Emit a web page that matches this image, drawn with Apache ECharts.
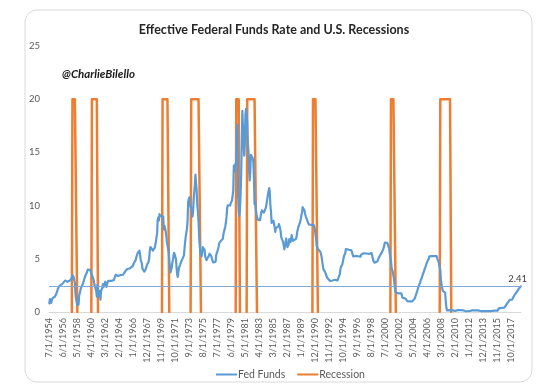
<!DOCTYPE html>
<html>
<head>
<meta charset="utf-8">
<script src="https://cdn.jsdelivr.net/npm/echarts@6/dist/echarts.min.js"></script>
<style>html,body{margin:0;padding:0;background:#fff}#c{width:540px;height:388px}</style>
</head>
<body>
<div id="c"></div>
<script>
// Monthly effective fed funds rate, starting July 1954
const startYear = 1954, startMonth = 7;
const fedFunds = [
0.80,1.22,1.07,0.85,0.83,1.28,
1.39,1.29,1.35,1.43,1.43,1.64,1.68,1.96,2.18,2.24,2.35,2.48,
2.45,2.50,2.50,2.62,2.75,2.71,2.75,2.73,2.95,2.96,2.88,2.94,
2.84,3.00,2.96,3.00,3.00,3.00,2.99,3.24,3.47,3.50,3.28,2.98,
2.72,1.67,1.20,1.26,0.63,0.93,0.68,1.53,1.76,1.80,2.27,2.42,
2.48,2.43,2.80,2.96,2.90,3.39,3.47,3.50,3.76,3.98,4.00,3.99,
3.99,3.97,3.84,3.92,3.85,3.32,3.23,2.98,2.60,2.47,2.44,1.98,
1.45,2.54,2.02,1.49,1.98,1.73,1.17,2.00,1.88,2.26,2.62,2.33,
2.15,2.37,2.85,2.78,2.36,2.68,2.71,2.93,2.90,2.90,2.94,2.93,
2.92,3.00,2.98,2.90,3.00,2.99,3.02,3.49,3.48,3.50,3.48,3.38,
3.48,3.48,3.43,3.47,3.50,3.50,3.42,3.50,3.45,3.36,3.52,3.85,
3.90,3.98,4.04,4.09,4.10,4.04,4.09,4.12,4.01,4.08,4.10,4.32,
4.42,4.60,4.65,4.67,4.90,5.17,5.30,5.53,5.40,5.53,5.76,5.40,
4.94,5.00,4.53,4.05,3.94,3.98,3.79,3.90,3.99,3.88,4.13,4.51,
4.61,4.71,5.05,5.76,6.11,6.07,6.02,6.03,5.78,5.91,5.82,6.02,
6.30,6.61,6.79,7.41,8.67,8.90,8.61,9.19,9.15,9.00,8.85,8.97,
8.98,8.98,7.76,8.10,7.95,7.61,7.21,6.61,6.29,6.20,5.60,4.90,
4.14,3.72,3.71,4.16,4.63,4.91,5.31,5.56,5.55,5.20,4.91,4.14,
3.50,3.29,3.83,4.17,4.27,4.46,4.55,4.80,4.87,5.04,5.06,5.33,
5.94,6.58,7.09,7.12,7.84,8.49,10.40,10.50,10.78,10.01,10.03,9.95,
9.65,8.97,9.35,10.51,11.31,11.93,12.92,12.01,11.34,10.06,9.45,8.53,
7.13,6.24,5.54,5.49,5.22,5.55,6.10,6.14,6.24,5.82,5.22,5.20,
4.87,4.77,4.84,4.82,5.29,5.48,5.31,5.29,5.25,5.02,4.95,4.65,
4.61,4.68,4.69,4.73,5.35,5.39,5.42,5.90,6.14,6.47,6.51,6.56,
6.70,6.78,6.79,6.89,7.36,7.60,7.81,8.04,8.45,8.96,9.76,10.03,
10.07,10.06,10.09,10.01,10.24,10.29,10.47,10.94,11.43,13.77,13.18,13.78,
13.82,14.13,17.19,17.61,10.98,9.47,9.03,9.61,10.87,12.81,15.85,18.90,
19.08,15.93,14.70,15.72,18.52,19.10,19.04,17.82,15.87,15.08,13.31,12.37,
13.22,14.78,14.68,14.94,14.45,14.15,12.59,10.12,10.31,9.71,9.20,8.95,
8.68,8.51,8.77,8.80,8.63,8.98,9.37,9.56,9.45,9.48,9.34,9.47,
9.56,9.59,9.91,10.29,10.32,11.06,11.23,11.64,11.30,9.99,9.43,8.38,
8.35,8.50,8.58,8.27,7.97,7.53,7.88,7.90,7.92,7.99,8.05,8.27,
8.14,7.86,7.48,6.99,6.85,6.92,6.56,6.17,5.89,5.85,6.04,6.91,
6.43,6.10,6.13,6.37,6.85,6.73,6.58,6.73,7.22,7.29,6.69,6.77,
6.83,6.58,6.58,6.87,7.09,7.51,7.75,8.01,8.19,8.30,8.35,8.76,
9.12,9.36,9.85,9.84,9.81,9.53,9.24,8.99,9.02,8.84,8.55,8.45,
8.23,8.24,8.28,8.26,8.18,8.29,8.15,8.13,8.20,8.11,7.81,7.31,
6.91,6.25,6.12,5.91,5.78,5.90,5.82,5.66,5.45,5.21,4.81,4.43,
4.03,4.06,3.98,3.73,3.82,3.76,3.25,3.30,3.22,3.10,3.09,2.92,
3.02,3.03,3.07,2.96,3.00,3.04,3.06,3.03,3.09,2.99,3.02,2.96,
3.05,3.25,3.34,3.56,4.01,4.25,4.26,4.47,4.73,4.76,5.29,5.45,
5.53,5.92,5.98,6.05,6.01,6.00,5.85,5.74,5.80,5.76,5.80,5.60,
5.56,5.22,5.31,5.22,5.24,5.27,5.40,5.22,5.30,5.24,5.31,5.29,
5.25,5.19,5.39,5.51,5.50,5.56,5.52,5.54,5.54,5.50,5.52,5.50,
5.56,5.51,5.49,5.45,5.49,5.56,5.54,5.55,5.51,5.07,4.83,4.68,
4.63,4.76,4.81,4.74,4.74,4.76,4.99,5.07,5.22,5.20,5.42,5.30,
5.45,5.73,5.85,6.02,6.27,6.53,6.54,6.50,6.52,6.51,6.51,6.40,
5.98,5.49,5.31,4.80,4.21,3.97,3.77,3.65,3.07,2.49,2.09,1.82,
1.73,1.74,1.73,1.75,1.75,1.75,1.73,1.74,1.75,1.75,1.34,1.24,
1.24,1.26,1.25,1.26,1.26,1.22,1.01,1.03,1.01,1.01,1.00,0.98,
1.00,1.01,1.00,1.00,1.00,1.03,1.26,1.43,1.61,1.76,1.93,2.16,
2.28,2.50,2.63,2.79,3.00,3.04,3.26,3.50,3.62,3.78,4.00,4.16,
4.29,4.49,4.59,4.79,4.94,4.99,5.24,5.25,5.25,5.25,5.25,5.24,
5.25,5.26,5.26,5.25,5.25,5.25,5.26,5.02,4.94,4.76,4.49,4.24,
3.94,2.98,2.61,2.28,1.98,2.00,2.01,2.00,1.81,0.97,0.39,0.16,
0.15,0.22,0.18,0.15,0.18,0.21,0.16,0.16,0.15,0.12,0.12,0.12,
0.11,0.13,0.16,0.20,0.20,0.18,0.18,0.19,0.19,0.19,0.19,0.18,
0.17,0.16,0.14,0.10,0.09,0.09,0.07,0.10,0.08,0.07,0.08,0.07,
0.08,0.10,0.13,0.14,0.16,0.16,0.16,0.13,0.14,0.16,0.16,0.16,
0.14,0.15,0.14,0.15,0.11,0.09,0.09,0.08,0.08,0.09,0.08,0.09,
0.07,0.07,0.08,0.09,0.09,0.10,0.09,0.09,0.09,0.09,0.09,0.12,
0.11,0.11,0.11,0.12,0.12,0.13,0.13,0.14,0.14,0.12,0.12,0.24,
0.34,0.38,0.36,0.37,0.37,0.38,0.39,0.40,0.40,0.40,0.41,0.54,
0.65,0.66,0.79,0.90,0.91,1.04,1.15,1.16,1.15,1.15,1.16,1.30,
1.41,1.42,1.51,1.69,1.70,1.82,1.91,1.91,1.95,2.19,2.20,2.27,
2.41
];
// NBER recessions (first and last month at level 20)
const recessionStart = ['9/1/1957','5/1/1960','1/1/1970','12/1/1973','2/1/1980','8/1/1981','8/1/1990','4/1/2001','1/1/2008'];
const recessionEnd   = ['4/1/1958','2/1/1961','11/1/1970','3/1/1975','7/1/1980','11/1/1982','3/1/1991','11/1/2001','6/1/2009'];
const recessionLevel = 20;
const latestValue = 2.41;
const yTicks = [0, 5, 10, 15, 20, 25];

const categories = [];
for (let i = 0; i < fedFunds.length; i++) {
  const m = (startMonth - 1 + i) % 12 + 1;
  const y = startYear + Math.floor((startMonth - 1 + i) / 12);
  categories.push(m + '/1/' + y);
}
const recession = categories.map(() => null);
recessionStart.forEach((s, k) => {
  const a = categories.indexOf(s), b = categories.indexOf(recessionEnd[k]);
  if (a > 0) recession[a - 1] = 0;
  for (let i = a; i <= b; i++) recession[i] = recessionLevel;
  if (b + 1 < recession.length) recession[b + 1] = 0;
});

const chart = echarts.init(document.getElementById('c'), null, {renderer: 'canvas'});
const FONT = 'Lato, "Open Sans", sans-serif';
chart.setOption({
  animation: false,
  backgroundColor: '#fff',
  textStyle: {fontFamily: FONT},
  title: {
    text: 'Effective Federal Funds Rate and U.S. Recessions',
    left: 269, top: 18, textAlign: 'center',
    textStyle: {fontFamily: FONT, fontWeight: 'bold', fontSize: 12.5, color: '#262626'}
  },
  graphic: [
    {type: 'rect', shape: {x: 25, y: 10, width: 507, height: 372, r: 12},
     style: {fill: 'none', stroke: '#d9d9d9', lineWidth: 1}, silent: true, z: -1},
    {type: 'text', left: 62, top: 68,
     style: {text: '@CharlieBilello', fill: '#1a1a1a', font: 'italic bold 11.5px ' + FONT}}
  ],
  legend: {
    top: 364, left: 211, itemWidth: 21, itemHeight: 2, itemGap: 12, icon: 'rect',
    textStyle: {fontFamily: FONT, fontSize: 10.5, color: '#595959', padding: [0, 0, 0, -4]},
    data: ['Fed Funds', 'Recession']
  },
  grid: {left: 49, right: 19, top: 46, bottom: 76, containLabel: false},
  xAxis: {
    type: 'category', data: categories, boundaryGap: true,
    axisLine: {lineStyle: {color: '#d9d9d9', width: 1}},
    axisTick: {show: false},
    axisLabel: {interval: 22, rotate: 90, fontSize: 9, color: '#595959', margin: 6, fontFamily: FONT},
    splitLine: {show: false}
  },
  yAxis: {
    type: 'value', min: 0, max: 25, interval: 5,
    axisLine: {show: false}, axisTick: {show: false}, splitLine: {show: false},
    axisLabel: {fontSize: 9.5, color: '#595959', margin: 9, fontFamily: FONT,
      formatter: v => yTicks.includes(v) ? String(v) : ''}
  },
  series: [
    {
      name: 'Fed Funds', type: 'line', data: fedFunds, symbol: 'none', z: 3,
      lineStyle: {color: '#5B9BD5', width: 2.2, join: 'round', cap: 'round'}, itemStyle: {color: '#5B9BD5'},
      markLine: {
        silent: true, symbol: 'none',
        lineStyle: {color: '#7FA8D8', width: 1, type: 'solid'},
        label: {show: true, position: 'insideEndTop', formatter: String(latestValue),
          color: '#404040', fontSize: 9.5, fontFamily: FONT, distance: [-6, 2]},
        data: [{yAxis: latestValue}]
      }
    },
    {
      name: 'Recession', type: 'line', data: recession, symbol: 'none', z: 2,
      connectNulls: false,
      lineStyle: {color: '#ED7D31', width: 2.5, join: 'round', cap: 'round'}, itemStyle: {color: '#ED7D31'}
    }
  ]
});
</script>
</body>
</html>
